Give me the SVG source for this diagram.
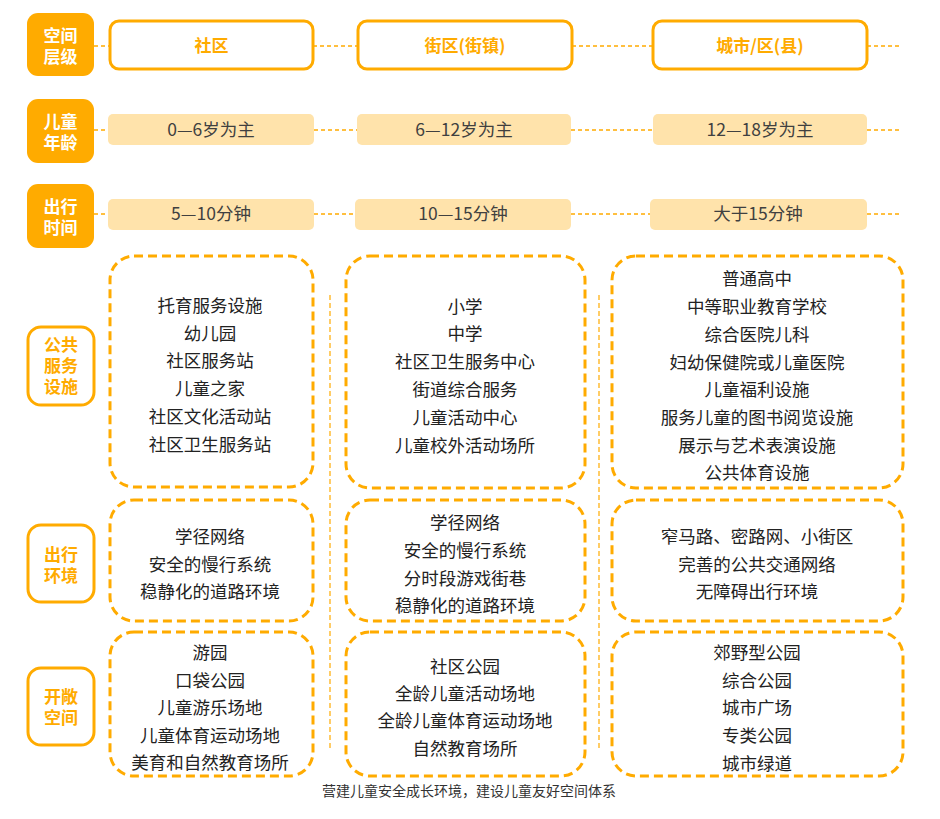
<svg xmlns="http://www.w3.org/2000/svg" width="940" height="819" viewBox="0 0 940 819">
<style>
text{font-family:"Noto Sans CJK SC","Noto Sans",sans-serif;text-anchor:middle;dominant-baseline:central;transform:translateY(-1.5px)}
.lab{fill:#FFAB00}
.labt{fill:#fff;font-size:17px;font-weight:bold}
.olab{fill:#fff;stroke:#FFAB00;stroke-width:3}
.olabt{fill:#FFAB00;font-size:17px;font-weight:bold}
.hdr{fill:#fff;stroke:#FFAB00;stroke-width:3}
.hdrt{fill:#FFAB00;font-size:17px;font-weight:bold}
.pill{fill:#FFE3AB}
.pillt{fill:#404040;font-size:17.5px}
.box{fill:#fff;stroke:#FFAB00;stroke-width:3;stroke-dasharray:9 5}
.bt{fill:#222;font-size:17.5px}
.hl{stroke:#FFAB00;stroke-width:1.5;stroke-dasharray:4 3;fill:none}
.vl{stroke:#FFAB00;stroke-width:1.2;stroke-dasharray:5 3;fill:none}
.cap{fill:#333;font-size:14px}
</style>
<g id="connectors">
<line class="hl" x1="94" y1="46" x2="109" y2="46"/>
<line class="hl" x1="313" y1="46" x2="357" y2="46"/>
<line class="hl" x1="572" y1="46" x2="652" y2="46"/>
<line class="hl" x1="867" y1="46" x2="902" y2="46"/>
<line class="hl" x1="94" y1="130" x2="108" y2="130"/>
<line class="hl" x1="314" y1="130" x2="357" y2="130"/>
<line class="hl" x1="571" y1="130" x2="653" y2="130"/>
<line class="hl" x1="867" y1="130" x2="902" y2="130"/>
<line class="hl" x1="94" y1="214" x2="108" y2="214"/>
<line class="hl" x1="314" y1="214" x2="355" y2="214"/>
<line class="hl" x1="571" y1="214" x2="650" y2="214"/>
<line class="hl" x1="867" y1="214" x2="902" y2="214"/>
<line class="vl" x1="330" y1="295" x2="330" y2="748"/>
<line class="vl" x1="599" y1="295" x2="599" y2="748"/>
</g>
<g id="label-level"><rect class="lab" x="27" y="13" width="67" height="63" rx="11"/><text class="labt" x="60.5" y="36">空间</text><text class="labt" x="60.5" y="57">层级</text></g>
<g id="label-age"><rect class="lab" x="27" y="99" width="67" height="64" rx="11"/><text class="labt" x="60.5" y="122">儿童</text><text class="labt" x="60.5" y="143">年龄</text></g>
<g id="label-time"><rect class="lab" x="27" y="184" width="67" height="64" rx="11"/><text class="labt" x="60.5" y="207">出行</text><text class="labt" x="60.5" y="228">时间</text></g>
<g id="label-service"><rect class="olab" x="28" y="327" width="66" height="78" rx="13"/><text class="olabt" x="61" y="345">公共</text><text class="olabt" x="61" y="366">服务</text><text class="olabt" x="61" y="387">设施</text></g>
<g id="label-travel"><rect class="olab" x="28" y="525" width="66" height="77" rx="13"/><text class="olabt" x="61" y="555">出行</text><text class="olabt" x="61" y="576">环境</text></g>
<g id="label-open"><rect class="olab" x="28" y="668" width="66" height="77" rx="13"/><text class="olabt" x="61" y="697">开敞</text><text class="olabt" x="61" y="718">空间</text></g>
<g id="hdr-community"><rect class="hdr" x="110" y="21" width="203" height="48" rx="9"/><text class="hdrt" x="211.5" y="45.5">社区</text></g>
<g id="hdr-street"><rect class="hdr" x="358" y="21" width="214" height="48" rx="9"/><text class="hdrt" x="465" y="45.5">街区(街镇)</text></g>
<g id="hdr-city"><rect class="hdr" x="653" y="21" width="214" height="48" rx="9"/><text class="hdrt" x="760" y="45.5">城市/区(县)</text></g>
<g id="age-1"><rect class="pill" x="108" y="114" width="206" height="31" rx="5"/><text class="pillt" x="211" y="130">0—6岁为主</text></g>
<g id="age-2"><rect class="pill" x="357" y="114" width="214" height="31" rx="5"/><text class="pillt" x="464" y="130">6—12岁为主</text></g>
<g id="age-3"><rect class="pill" x="653" y="114" width="214" height="31" rx="5"/><text class="pillt" x="760" y="130">12—18岁为主</text></g>
<g id="time-1"><rect class="pill" x="108" y="199" width="206" height="31" rx="5"/><text class="pillt" x="211" y="214">5—10分钟</text></g>
<g id="time-2"><rect class="pill" x="355" y="199" width="216" height="31" rx="5"/><text class="pillt" x="463" y="214">10—15分钟</text></g>
<g id="time-3"><rect class="pill" x="650" y="199" width="217" height="31" rx="5"/><text class="pillt" x="758" y="214">大于15分钟</text></g>
<g id="service-1"><rect class="box" x="110" y="256" width="203" height="231" rx="24"/>
<text class="bt" x="210" y="306">托育服务设施</text><text class="bt" x="210" y="334">幼儿园</text><text class="bt" x="210" y="361">社区服务站</text><text class="bt" x="210" y="389">儿童之家</text><text class="bt" x="210" y="417">社区文化活动站</text><text class="bt" x="210" y="445">社区卫生服务站</text></g>
<g id="service-2"><rect class="box" x="346" y="256" width="239" height="232" rx="24"/>
<text class="bt" x="465" y="307">小学</text><text class="bt" x="465" y="334">中学</text><text class="bt" x="465" y="362">社区卫生服务中心</text><text class="bt" x="465" y="390">街道综合服务</text><text class="bt" x="465" y="418">儿童活动中心</text><text class="bt" x="465" y="446">儿童校外活动场所</text></g>
<g id="service-3"><rect class="box" x="612" y="256" width="291" height="232" rx="24"/>
<text class="bt" x="757" y="279">普通高中</text><text class="bt" x="757" y="307">中等职业教育学校</text><text class="bt" x="757" y="335">综合医院儿科</text><text class="bt" x="757" y="363">妇幼保健院或儿童医院</text><text class="bt" x="757" y="390">儿童福利设施</text><text class="bt" x="757" y="418">服务儿童的图书阅览设施</text><text class="bt" x="757" y="446">展示与艺术表演设施</text><text class="bt" x="757" y="473">公共体育设施</text></g>
<g id="travel-1"><rect class="box" x="110" y="500" width="203" height="121" rx="24"/>
<text class="bt" x="210" y="537">学径网络</text><text class="bt" x="210" y="565">安全的慢行系统</text><text class="bt" x="210" y="592">稳静化的道路环境</text></g>
<g id="travel-2"><rect class="box" x="346" y="500" width="239" height="121" rx="24"/>
<text class="bt" x="465" y="523">学径网络</text><text class="bt" x="465" y="551">安全的慢行系统</text><text class="bt" x="465" y="579">分时段游戏街巷</text><text class="bt" x="465" y="606">稳静化的道路环境</text></g>
<g id="travel-3"><rect class="box" x="612" y="500" width="291" height="121" rx="24"/>
<text class="bt" x="757" y="537">窄马路、密路网、小街区</text><text class="bt" x="757" y="565">完善的公共交通网络</text><text class="bt" x="757" y="592">无障碍出行环境</text></g>
<g id="open-1"><rect class="box" x="110" y="632" width="203" height="144" rx="24"/>
<text class="bt" x="210" y="653">游园</text><text class="bt" x="210" y="681">口袋公园</text><text class="bt" x="210" y="708">儿童游乐场地</text><text class="bt" x="210" y="736">儿童体育运动场地</text><text class="bt" x="210" y="763">美育和自然教育场所</text></g>
<g id="open-2"><rect class="box" x="346" y="632" width="239" height="144" rx="24"/>
<text class="bt" x="465" y="667">社区公园</text><text class="bt" x="465" y="694">全龄儿童活动场地</text><text class="bt" x="465" y="721">全龄儿童体育运动场地</text><text class="bt" x="465" y="749">自然教育场所</text></g>
<g id="open-3"><rect class="box" x="612" y="632" width="291" height="144" rx="24"/>
<text class="bt" x="757" y="653">郊野型公园</text><text class="bt" x="757" y="681">综合公园</text><text class="bt" x="757" y="708">城市广场</text><text class="bt" x="757" y="736">专类公园</text><text class="bt" x="757" y="764">城市绿道</text></g>
<g id="caption"><text class="cap" x="469" y="791">营建儿童安全成长环境，建设儿童友好空间体系</text></g>
</svg>
